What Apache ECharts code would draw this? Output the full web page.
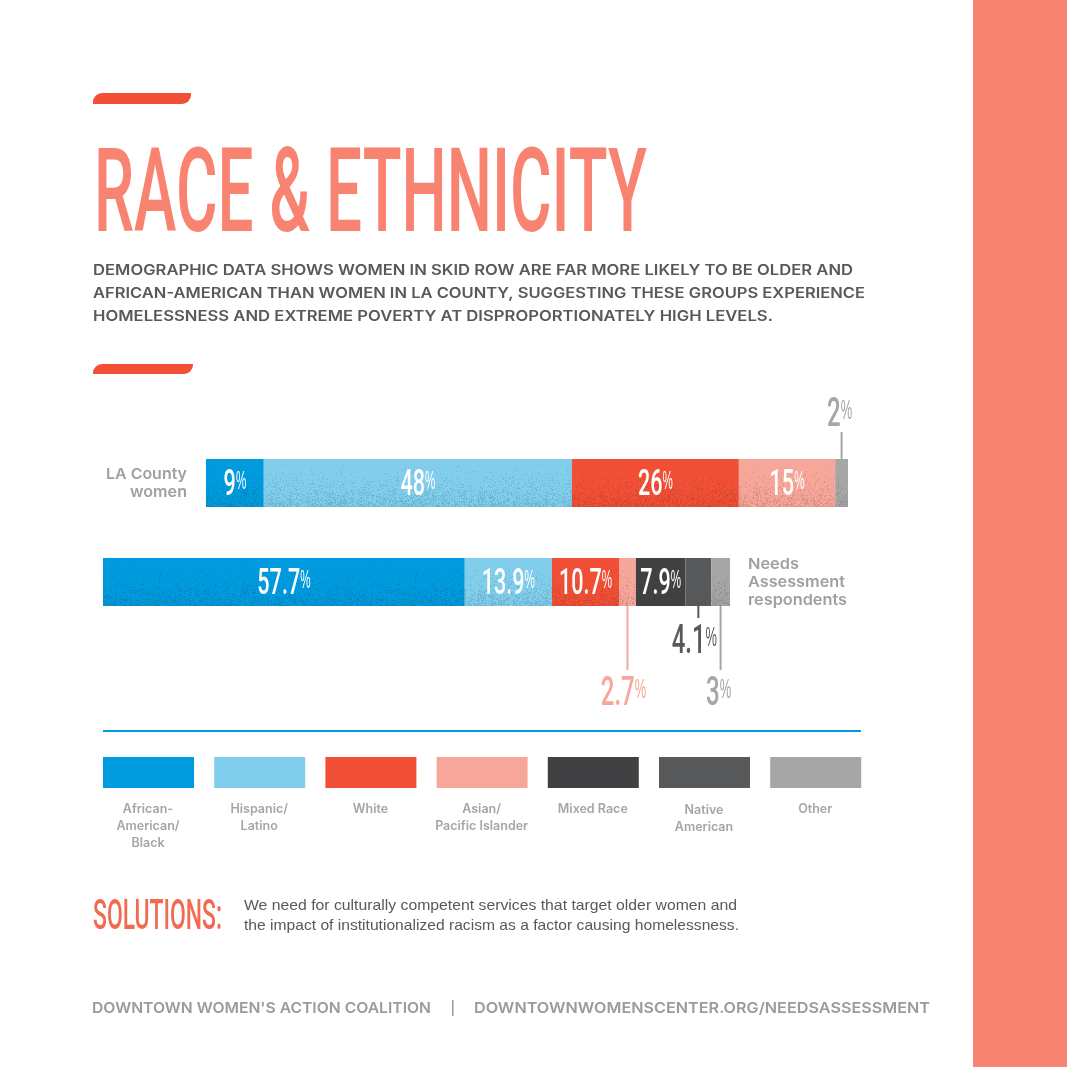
<!DOCTYPE html>
<html><head><meta charset="utf-8">
<style>html,body{margin:0;padding:0;background:#fff}#c{width:1067px;height:1067px}</style>
<script src="https://cdn.jsdelivr.net/npm/echarts@6/dist/echarts.min.js"></script>
</head><body><div id="c"></div>
<script>
const categories = ['African-American/Black','Hispanic/Latino','White','Asian/Pacific Islander','Mixed Race','Native American','Other'];
const laCategories = ['African-American/Black','Hispanic/Latino','White','Asian/Pacific Islander','Other'];
const laCountyValues = [9,48,26,15,2];
const needsValues = [57.7,13.9,10.7,2.7,7.9,4.1,3];
const laLabels = ['9','48','26','15','2'];
const needsLabels = ['57.7','13.9','10.7','2.7','7.9','4.1','3'];
const colors = {'African-American/Black':'#009ADE','Hispanic/Latino':'#81CDEC','White':'#F15036','Asian/Pacific Islander':'#F6A79A','Mixed Race':'#414042','Native American':'#58595B','Other':'#A6A6A6'};
const grainTint = {'African-American/Black':'#0B78A8','Hispanic/Latino':'#5C9DB8','White':'#B83F2A','Asian/Pacific Islander':'#BE7E72','Mixed Race':'#3A393B','Native American':'#4C4D4F','Other':'#7F7F7F'};
const legendLines = [['African-','American/','Black'],['Hispanic/','Latino'],['White'],['Asian/','Pacific Islander'],['Mixed Race'],['Native','American'],['Other']];
const title = 'RACE & ETHNICITY';
const subtitle = ['DEMOGRAPHIC DATA SHOWS WOMEN IN SKID ROW ARE FAR MORE LIKELY TO BE OLDER AND','AFRICAN-AMERICAN THAN WOMEN IN LA COUNTY, SUGGESTING THESE GROUPS EXPERIENCE','HOMELESSNESS AND EXTREME POVERTY AT DISPROPORTIONATELY HIGH LEVELS.'];
const solutionText = ['We need for culturally competent services that target older women and','the impact of institutionalized racism as a factor causing homelessness.'];

// outside labels, style only: index -> offsets from the row centre
const laOutside = {4:{dx:-2,dy:-70,l0:-24,l1:-51}};
const needsOutside = {3:{dx:-4,dy:110,l0:24,l1:88},5:{dx:-4,dy:58,l0:24,l1:36},6:{dx:-2,dy:110,l0:24,l1:88}};

const FF = '"Liberation Sans"', IF = 'Inter';
const mc = document.createElement('canvas').getContext('2d');
function tw(s,font){mc.font=font;return mc.measureText(s).width;}
function fsize(font){return parseFloat(font.match(/([\d.]+)px/)[1]);}
function T(text,x,y,font,fill,o){
  o=o||{};
  const sx=o.w?o.w/tw(text,font):(o.sx||1);
  return {type:'text',x:x,y:y+fsize(font)*0.07,scaleX:sx,silent:true,style:{text:text,font:font,fill:fill,align:o.align||'left',verticalAlign:'middle'}};
}
function R(x,y,w,h,fill,r){return {type:'rect',silent:true,shape:{x:x,y:y,width:w,height:h,r:r||0},style:{fill:fill}};}

const g=[];
g.push(R(973,0,94,1067,'#F98371'));
g.push(R(93,93,98,11,'#F15036',[9,0,9,0]));
g.push(R(93,364,100,10,'#F15036',[9,0,9,0]));
g.push(T(title,94,194,'500 117px Roboto','#F98371',{w:553}));
const subW=[760,772,680];
subtitle.forEach((s,i)=>g.push(T(s,93,270+23*i,'600 14.5px '+IF,'#58595B',{w:subW[i]})));
const rowFont='600 15px '+IF, rowCol='#A0A0A2';
g.push(T('LA County',187,473,rowFont,rowCol,{align:'right',w:81}));
g.push(T('women',187,491,rowFont,rowCol,{align:'right',w:57}));
g.push(T('Needs',748,563,rowFont,rowCol,{w:51}));
g.push(T('Assessment',748,581,rowFont,rowCol,{w:97}));
g.push(T('respondents',748,599,rowFont,rowCol,{w:99}));
g.push(R(103,730,758,2,'#009ADE'));
categories.forEach((c,i)=>{
  const x=103+111.2*i;
  g.push(R(x,757,91,31,colors[c]));
  const dy=c==='Native American'?1:0;
  legendLines[i].forEach((l,j)=>g.push(T(l,x+45,808+dy+17*j,'600 12.5px '+IF,'#A5A5A7',{align:'center',sx:1})));
});
g.push(T('SOLUTIONS:',93,915,'500 43px Roboto','#F26B50',{w:129}));
g.push(T(solutionText[0],244,905,'14.5px '+FF,'#58595B',{w:493}));
g.push(T(solutionText[1],244,925,'14.5px '+FF,'#58595B',{w:495}));
g.push(T("DOWNTOWN WOMEN'S ACTION COALITION",92,1007,'600 15px '+IF,'#9B9B9D',{w:339}));
g.push(R(452,1000,1.5,16,'#9B9B9D'));
g.push(T('DOWNTOWNWOMENSCENTER.ORG/NEEDSASSESSMENT',474,1007,'600 15px '+IF,'#9B9B9D',{w:456}));

// print-grain texture for the bar fills; tile height 99 = distance between the rows
function grain(cat){
  const cv=document.createElement('canvas');cv.width=256;cv.height=99;
  const x=cv.getContext('2d');x.fillStyle=colors[cat];x.fillRect(0,0,256,99);
  x.fillStyle=grainTint[cat];
  let s=12345+cat.length*97;
  const next=()=>{s=(s*1103515245+12345)&0x7fffffff;return s/0x7fffffff;};
  const strength=(cat==='Mixed Race'||cat==='Native American')?0.2:0.55;
  for(let j=0;j<48;j++){
    const p=strength*Math.pow(j/47,2.4);
    for(let i=0;i<256;i++){ if(next()<p){x.globalAlpha=0.5;x.fillRect(i,(459+j)%99,1,1);} }
  }
  return {image:cv,repeat:'repeat'};
}
const fills={};categories.forEach(c=>fills[c]=grain(c));

function centers(vals){let c=0;return vals.map(v=>{const m=c+v/2;c+=v;return [m,0];});}
function labelSeries(idx,vals,labels,cats,outside){
  return {type:'custom',xAxisIndex:idx,yAxisIndex:idx,silent:true,z:5,clip:false,encode:{x:0,y:1},
    data:centers(vals),
    renderItem:function(params,api){
      const i=params.dataIndex, p=api.coord([api.value(0),0]), o=outside[i];
      const size=o?40:36, num=labels[i], nf='500 '+size+'px Roboto', pf=(size*0.7)+'px '+FF, sx=0.6, psx=0.46;
      const w1=tw(num,nf)*sx, w2=tw('%',pf)*psx, tot=w1+w2;
      const cx=p[0]+(o?o.dx:0), cy=p[1]+(o?o.dy+3:3);
      const fill=o?colors[cats[i]]:'#fff';
      const kids=[
        {type:'text',x:cx-tot/2,y:cy,scaleX:sx,style:{text:num,font:nf,fill:fill,align:'left',verticalAlign:'middle'}},
        {type:'text',x:cx-tot/2+w1,y:cy-size*0.11,scaleX:psx,style:{text:'%',font:pf,fill:fill,align:'left',verticalAlign:'middle'}}
      ];
      if(o){kids.push({type:'rect',shape:{x:p[0]-1,y:p[1]+Math.min(o.l0,o.l1),width:2,height:Math.abs(o.l1-o.l0)},style:{fill:colors[cats[i]]}});}
      return {type:'group',children:kids};
    }};
}
function barSeries(idx,vals,cats,stack){
  return vals.map((v,i)=>({type:'bar',name:cats[i],stack:stack,xAxisIndex:idx,yAxisIndex:idx,barWidth:'100%',silent:true,
    data:[v],itemStyle:{color:fills[cats[i]]}}));
}
const chart=echarts.init(document.getElementById('c'),null,{renderer:'canvas',width:1067,height:1067});
chart.setOption({
  animation:false,backgroundColor:'#fff',
  grid:[{left:206,top:459,width:642,height:48},{left:103,top:558,width:627,height:48}],
  xAxis:[{gridIndex:0,type:'value',min:0,max:100,show:false},{gridIndex:1,type:'value',min:0,max:100,show:false}],
  yAxis:[{gridIndex:0,type:'category',data:['LA County women'],show:false},{gridIndex:1,type:'category',data:['Needs Assessment respondents'],show:false}],
  series:[].concat(
    barSeries(0,laCountyValues,laCategories,'la'),
    barSeries(1,needsValues,categories,'needs'),
    [labelSeries(0,laCountyValues,laLabels,laCategories,laOutside),
     labelSeries(1,needsValues,needsLabels,categories,needsOutside)]
  ),
  graphic:{elements:g}
});
</script></body></html>
